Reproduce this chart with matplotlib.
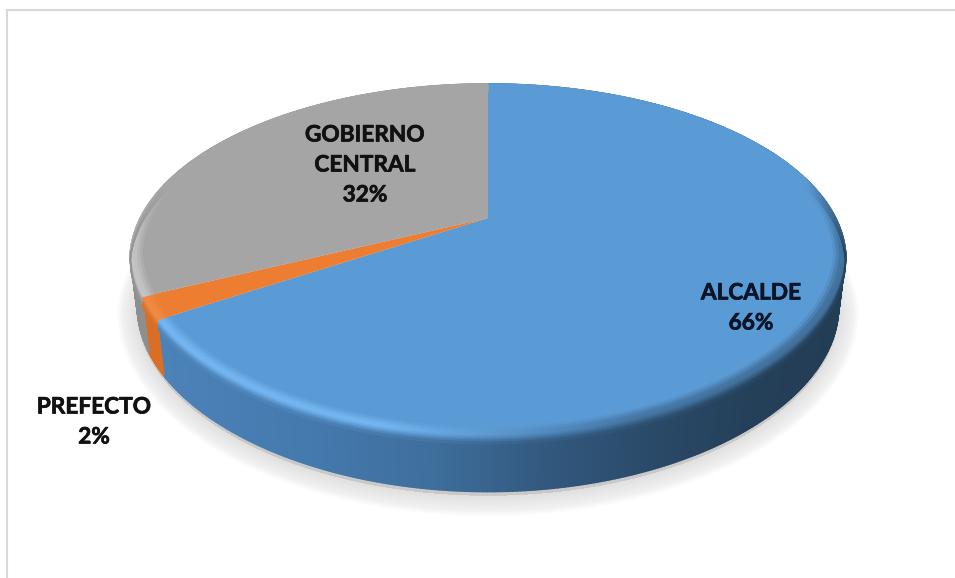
import numpy as np
import matplotlib
matplotlib.use("Agg")
import matplotlib.pyplot as plt
import matplotlib.patheffects as pe
from matplotlib.collections import PolyCollection
from matplotlib.colors import LinearSegmentedColormap, to_rgb
from matplotlib.path import Path
from matplotlib.transforms import Transform, Affine2D

categories = ["ALCALDE", "PREFECTO", "GOBIERNO\nCENTRAL"]
values = [66, 2, 32]
top_colors = ["#5b9bd5", "#ed7d31", "#a5a5a5"]
label_text = ["ALCALDE\n66%", "PREFECTO\n2%", "GOBIERNO\nCENTRAL\n32%"]
label_pos = [(751, 308), (94, 422), (365, 165)]

# perspective of the pie's top face, in pixels
CX, CY, R, K, B = 488.0, 218.0, 347.6, 0.2386, -114.0
DEPTH = 55.5
FOOT = 0.98  # the foot of the wall lies further from the viewer


def project(u, v):
    u = u * (1 - 0.05 * np.clip(-v - 0.2, 0, 1))
    w = 1 + K * v
    return CX + R * u / w, (CY + B * v) / w


class Perspective(Transform):
    input_dims = output_dims = 2
    is_affine = False

    def transform_non_affine(self, values):
        values = np.asarray(values, float)
        x, y = project(values[:, 0], values[:, 1])
        return np.column_stack([x, y])

    def transform_path_non_affine(self, path):
        fine = path.transformed(Affine2D().scale(2000))
        polys = fine.to_polygons(closed_only=True)
        return Path(self.transform_non_affine(polys[0] / 2000))


fig = plt.figure(figsize=(9.55, 5.78), dpi=100, facecolor="white")
ax = fig.add_axes([0, 0, 1, 1])
wedges, _ = ax.pie(values, colors=top_colors, startangle=90, counterclock=False,
                   radius=1, wedgeprops={"linewidth": 0, "zorder": 5})
ax.set_aspect("auto")
ax.set_xlim(0, 955)
ax.set_ylim(578, 0)
ax.axis("off")

persp = Perspective()
for w in wedges:
    w.set_transform(persp + ax.transData)
    w.set_clip_on(False)


def rim(th, r=1.0):
    return project(r * np.cos(np.radians(th)), r * np.sin(np.radians(th)))


# soft shadow below the pie
ths = np.linspace(0, 360, 361)
sx, sy = rim(ths)
sx = CX + (sx - CX) * FOOT
for lw in np.linspace(30, 1, 24):
    ax.fill(sx, sy + DEPTH + 4, fc=(0.45, 0.45, 0.45, 0.007), ec=(0.45, 0.45, 0.45, 0.007),
            lw=lw, zorder=1, joinstyle="round")

wall_maps = [
    LinearSegmentedColormap.from_list("b", [(0, "#4b82b8"), (0.23, "#4479ad"), (0.40, "#3e6e9c"),
                                             (0.56, "#33597f"), (0.72, "#2a4a69"), (0.88, "#243f58"),
                                             (1, "#233d55")]),
    LinearSegmentedColormap.from_list("o", ["#d96f26", "#e0742a"]),
    LinearSegmentedColormap.from_list("g", ["#8e8e8e", "#8e8e8e"]),
]
XL, XR = 130.0, 846.0
hilite = ["#74b6f2", "#f08a45", "#c4c4c4"]

steps = [(0.968, 0.0), (0.976, 0.0), (0.984, 0.0), (0.992, 0.0), (1.0, 0.0), (1.0, 2.0), (1.0, 4.0), (1.0, 6.0), (1.0, 8.0)]
mixes = [0.25, 0.6, 0.9, 1.0, 0.85, 0.6, 0.35, 0.12]

for wedge, cmap, top, hi in zip(wedges, wall_maps, top_colors, hilite):
    th = np.arange(wedge.theta1, wedge.theta2 + 0.5, 0.5)
    th = np.clip(th, wedge.theta1, wedge.theta2)
    a, b = th[:-1], th[1:]
    xa, ya = rim(a)
    xb, yb = rim(b)
    mid = (xa + xb) / 2
    base = cmap(np.clip((mid - 160) / (XR - 160), 0, 1))
    fxa, fxb = CX + (xa - CX) * FOOT, CX + (xb - CX) * FOOT
    # outer wall, each quad overlapping the seam of the one before
    quads = np.stack([np.column_stack([xa, ya]), np.column_stack([xb, yb]),
                      np.column_stack([fxb, yb + DEPTH]), np.column_stack([fxa, ya + DEPTH])], axis=1)
    ax.add_collection(PolyCollection(quads, facecolors=base, edgecolors=base, linewidths=1.2, zorder=3))
    # bevel between the top face and the wall
    strength = np.clip((640 - mid) / 260, 0, 1)[:, None]
    gate = np.clip((0.25 - np.sin(np.radians((a + b) / 2))) / 0.4, 0, 1)[:, None]
    top_rgb = np.array(to_rgb(top))
    hi_rgb = np.array(to_rgb(hi))
    crest = top_rgb * (1 - strength) + hi_rgb * strength
    blend = crest * strength + (top_rgb * 0.55 + base[:, :3] * 0.45) * (1 - strength)
    for (r0, d0), (r1, d1), m in zip(steps[:-1], steps[1:], mixes):
        p = [rim(a, r0), rim(b, r0), rim(b, r1), rim(a, r1)]
        q = np.stack([np.column_stack([p[0][0], p[0][1] + d0]), np.column_stack([p[1][0], p[1][1] + d0]),
                      np.column_stack([p[2][0], p[2][1] + d1]), np.column_stack([p[3][0], p[3][1] + d1])], axis=1)
        if d1 > 0:
            other = top_rgb * (1 - gate) + base[:, :3] * gate
        else:
            other = np.tile(top_rgb, (len(a), 1))
        col = blend * m + other * (1 - m)
        col = col * gate + other * (1 - gate)
        ax.add_collection(PolyCollection(q, facecolors=col, edgecolors=col, linewidths=0.9, zorder=6 + 0.1 * (d1 > 0)))

# chart frame
ax.plot([7, 7], [578, 10], color="#d9d9d9", lw=1.5, zorder=2, solid_capstyle="butt")
ax.plot([6, 955], [10, 10], color="#d9d9d9", lw=1.5, zorder=2, solid_capstyle="butt")

for txt, (x, y), dark in zip(label_text, label_pos, ["#0a1528", "#111111", "#111111"]):
    ax.text(x, y, txt, ha="center", va="center", family="Lato", fontweight="bold",
            fontsize=16.3, color=dark, linespacing=1.53, zorder=10,
            path_effects=[pe.withStroke(linewidth=0.5, foreground=dark)])

fig.savefig("out.png", dpi=100)
